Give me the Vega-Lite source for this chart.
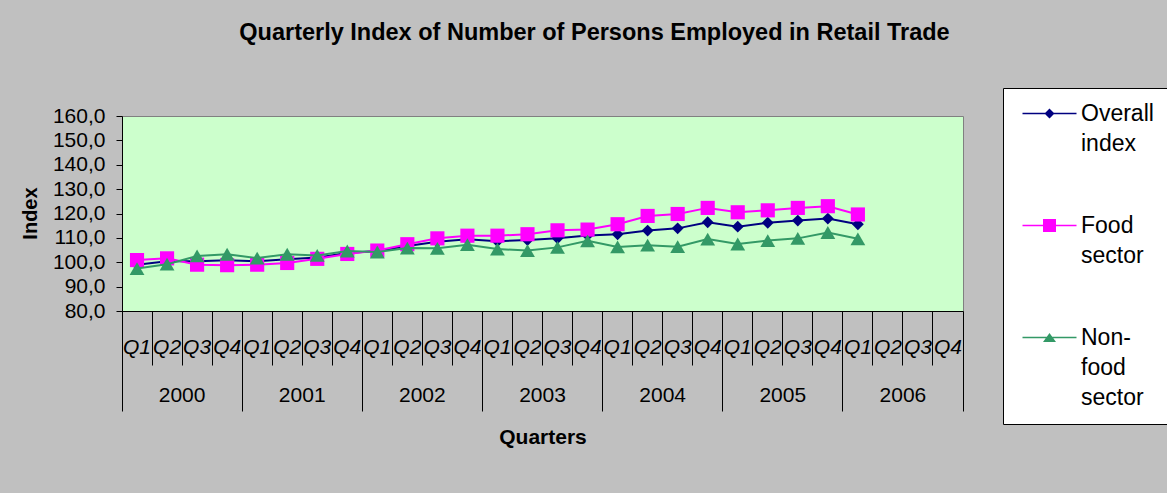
{
  "$schema": "https://vega.github.io/schema/vega-lite/v6.json",
  "width": 841,
  "height": 195,
  "autosize": {"type": "none"},
  "padding": {"left": 122, "top": 116, "right": 204, "bottom": 182},
  "background": "#C0C0C0",
  "title": {"text": "Quarterly Index of Number of Persons Employed in Retail Trade", "font": "Liberation Sans", "fontSize": 23.5, "fontWeight": "bold", "color": "black", "anchor": "middle", "frame": "group", "dx": 52, "dy": -39},
  "config": {
    "view": {"fill": "#CCFFCC", "stroke": "#808080", "strokeWidth": 1},
    "style": {"guide-label": {"lineHeight": 30}},
    "axis": {"labelFont": "Liberation Sans", "titleFont": "Liberation Sans", "labelColor": "black", "titleColor": "black", "domainColor": "black", "tickColor": "black", "grid": false}
  },
  "data": {"values": [
    {"period": "2000 Q1", "series": "Overall index", "value": 99.0},
    {"period": "2000 Q2", "series": "Overall index", "value": 100.4},
    {"period": "2000 Q3", "series": "Overall index", "value": 100.4},
    {"period": "2000 Q4", "series": "Overall index", "value": 100.8},
    {"period": "2001 Q1", "series": "Overall index", "value": 100.4},
    {"period": "2001 Q2", "series": "Overall index", "value": 101.2},
    {"period": "2001 Q3", "series": "Overall index", "value": 101.9},
    {"period": "2001 Q4", "series": "Overall index", "value": 103.8},
    {"period": "2002 Q1", "series": "Overall index", "value": 104.6},
    {"period": "2002 Q2", "series": "Overall index", "value": 106.7},
    {"period": "2002 Q3", "series": "Overall index", "value": 108.4},
    {"period": "2002 Q4", "series": "Overall index", "value": 109.4},
    {"period": "2003 Q1", "series": "Overall index", "value": 108.6},
    {"period": "2003 Q2", "series": "Overall index", "value": 109.1},
    {"period": "2003 Q3", "series": "Overall index", "value": 109.8},
    {"period": "2003 Q4", "series": "Overall index", "value": 111.0},
    {"period": "2004 Q1", "series": "Overall index", "value": 111.5},
    {"period": "2004 Q2", "series": "Overall index", "value": 113.0},
    {"period": "2004 Q3", "series": "Overall index", "value": 113.9},
    {"period": "2004 Q4", "series": "Overall index", "value": 116.4},
    {"period": "2005 Q1", "series": "Overall index", "value": 114.6},
    {"period": "2005 Q2", "series": "Overall index", "value": 116.2},
    {"period": "2005 Q3", "series": "Overall index", "value": 117.1},
    {"period": "2005 Q4", "series": "Overall index", "value": 117.9},
    {"period": "2006 Q1", "series": "Overall index", "value": 115.6},
    {"period": "2000 Q1", "series": "Food sector", "value": 100.9},
    {"period": "2000 Q2", "series": "Food sector", "value": 101.6},
    {"period": "2000 Q3", "series": "Food sector", "value": 99.0},
    {"period": "2000 Q4", "series": "Food sector", "value": 98.8},
    {"period": "2001 Q1", "series": "Food sector", "value": 99.0},
    {"period": "2001 Q2", "series": "Food sector", "value": 99.7},
    {"period": "2001 Q3", "series": "Food sector", "value": 101.4},
    {"period": "2001 Q4", "series": "Food sector", "value": 103.4},
    {"period": "2002 Q1", "series": "Food sector", "value": 104.8},
    {"period": "2002 Q2", "series": "Food sector", "value": 107.4},
    {"period": "2002 Q3", "series": "Food sector", "value": 109.8},
    {"period": "2002 Q4", "series": "Food sector", "value": 110.9},
    {"period": "2003 Q1", "series": "Food sector", "value": 110.9},
    {"period": "2003 Q2", "series": "Food sector", "value": 111.5},
    {"period": "2003 Q3", "series": "Food sector", "value": 113.1},
    {"period": "2003 Q4", "series": "Food sector", "value": 113.4},
    {"period": "2004 Q1", "series": "Food sector", "value": 115.6},
    {"period": "2004 Q2", "series": "Food sector", "value": 119.0},
    {"period": "2004 Q3", "series": "Food sector", "value": 119.8},
    {"period": "2004 Q4", "series": "Food sector", "value": 122.3},
    {"period": "2005 Q1", "series": "Food sector", "value": 120.5},
    {"period": "2005 Q2", "series": "Food sector", "value": 121.3},
    {"period": "2005 Q3", "series": "Food sector", "value": 122.3},
    {"period": "2005 Q4", "series": "Food sector", "value": 123.0},
    {"period": "2006 Q1", "series": "Food sector", "value": 119.6},
    {"period": "2000 Q1", "series": "Non-food sector", "value": 97.4},
    {"period": "2000 Q2", "series": "Non-food sector", "value": 99.2},
    {"period": "2000 Q3", "series": "Non-food sector", "value": 102.6},
    {"period": "2000 Q4", "series": "Non-food sector", "value": 103.3},
    {"period": "2001 Q1", "series": "Non-food sector", "value": 101.7},
    {"period": "2001 Q2", "series": "Non-food sector", "value": 103.3},
    {"period": "2001 Q3", "series": "Non-food sector", "value": 102.8},
    {"period": "2001 Q4", "series": "Non-food sector", "value": 104.6},
    {"period": "2002 Q1", "series": "Non-food sector", "value": 104.2},
    {"period": "2002 Q2", "series": "Non-food sector", "value": 105.8},
    {"period": "2002 Q3", "series": "Non-food sector", "value": 105.7},
    {"period": "2002 Q4", "series": "Non-food sector", "value": 107.2},
    {"period": "2003 Q1", "series": "Non-food sector", "value": 105.4},
    {"period": "2003 Q2", "series": "Non-food sector", "value": 104.8},
    {"period": "2003 Q3", "series": "Non-food sector", "value": 106.1},
    {"period": "2003 Q4", "series": "Non-food sector", "value": 108.8},
    {"period": "2004 Q1", "series": "Non-food sector", "value": 106.3},
    {"period": "2004 Q2", "series": "Non-food sector", "value": 107.0},
    {"period": "2004 Q3", "series": "Non-food sector", "value": 106.4},
    {"period": "2004 Q4", "series": "Non-food sector", "value": 109.5},
    {"period": "2005 Q1", "series": "Non-food sector", "value": 107.5},
    {"period": "2005 Q2", "series": "Non-food sector", "value": 108.9},
    {"period": "2005 Q3", "series": "Non-food sector", "value": 109.8},
    {"period": "2005 Q4", "series": "Non-food sector", "value": 112.2},
    {"period": "2006 Q1", "series": "Non-food sector", "value": 109.6}
  ]},
  "resolve": {"axis": {"x": "independent"}},
  "layer": [
    {
      "transform": [{"filter": "datum.series === 'Overall index'"}],
      "mark": {"type": "line", "color": "#000080", "strokeWidth": 2},
      "encoding": {
        "x": {"field": "period", "type": "ordinal", "sort": null,
          "scale": {"type": "band", "paddingInner": 0, "paddingOuter": 0, "domain": ["2000 Q1","2000 Q2","2000 Q3","2000 Q4","2001 Q1","2001 Q2","2001 Q3","2001 Q4","2002 Q1","2002 Q2","2002 Q3","2002 Q4","2003 Q1","2003 Q2","2003 Q3","2003 Q4","2004 Q1","2004 Q2","2004 Q3","2004 Q4","2005 Q1","2005 Q2","2005 Q3","2005 Q4","2006 Q1","2006 Q2","2006 Q3","2006 Q4"]},
          "axis": {"orient": "bottom", "title": null, "ticks": false, "tickSize": 0, "domain": true, "domainColor": "black", "labelAngle": 0, "labelOverlap": false, "labelFontSize": 21, "labelFontStyle": "italic", "labelPadding": 25, "labelExpr": "substring(datum.value, 5)"}},
        "y": {"field": "value", "type": "quantitative",
          "scale": {"domain": [80, 160], "nice": false, "zero": false},
          "axis": {"orient": "left", "values": [80, 90, 100, 110, 120, 130, 140, 150, 160], "labelOverlap": false, "labelExpr": "replace(format(datum.value, '.1f'), '.', ',')", "labelFontSize": 21, "tickSize": 6, "labelPadding": 11, "title": "Index", "titleFontSize": 20, "titleFontWeight": "bold", "titleX": -92, "titleY": 97, "titleAngle": -90, "titleAlign": "center", "titleBaseline": "middle"}}
      }
    },
    {
      "transform": [{"filter": "datum.series === 'Overall index'"}],
      "mark": {"type": "point", "filled": true, "shape": "diamond", "size": 140, "color": "#000080", "opacity": 1},
      "encoding": {
        "x": {"field": "period", "type": "ordinal", "sort": null,
          "scale": {"type": "band", "paddingInner": 0, "paddingOuter": 0, "domain": ["2000 Q1","2000 Q2","2000 Q3","2000 Q4","2001 Q1","2001 Q2","2001 Q3","2001 Q4","2002 Q1","2002 Q2","2002 Q3","2002 Q4","2003 Q1","2003 Q2","2003 Q3","2003 Q4","2004 Q1","2004 Q2","2004 Q3","2004 Q4","2005 Q1","2005 Q2","2005 Q3","2005 Q4","2006 Q1","2006 Q2","2006 Q3","2006 Q4"]},
          "axis": {"orient": "bottom", "title": null, "labels": false, "domain": false, "ticks": true, "tickSize": 54, "tickColor": "black", "bandPosition": 0}},
        "y": {"field": "value", "type": "quantitative", "scale": {"domain": [80, 160], "nice": false, "zero": false},
          "axis": {"orient": "left", "values": [80, 90, 100, 110, 120, 130, 140, 150, 160], "labelOverlap": false, "labelExpr": "replace(format(datum.value, '.1f'), '.', ',')", "labelFontSize": 21, "tickSize": 6, "labelPadding": 11, "title": "Index", "titleFontSize": 20, "titleFontWeight": "bold", "titleX": -92, "titleY": 97, "titleAngle": -90, "titleAlign": "center", "titleBaseline": "middle"}}
      }
    },
    {
      "transform": [{"filter": "datum.series === 'Food sector'"}],
      "mark": {"type": "line", "color": "#FF00FF", "strokeWidth": 2},
      "encoding": {
        "x": {"field": "period", "type": "ordinal", "sort": null,
          "scale": {"type": "band", "paddingInner": 0, "paddingOuter": 0, "domain": ["2000 Q1","2000 Q2","2000 Q3","2000 Q4","2001 Q1","2001 Q2","2001 Q3","2001 Q4","2002 Q1","2002 Q2","2002 Q3","2002 Q4","2003 Q1","2003 Q2","2003 Q3","2003 Q4","2004 Q1","2004 Q2","2004 Q3","2004 Q4","2005 Q1","2005 Q2","2005 Q3","2005 Q4","2006 Q1","2006 Q2","2006 Q3","2006 Q4"]},
          "axis": {"orient": "bottom", "title": null, "labels": false, "domain": false, "ticks": true, "tickSize": 100, "tickColor": "black", "bandPosition": 0, "values": ["2000 Q1","2001 Q1","2002 Q1","2003 Q1","2004 Q1","2005 Q1","2006 Q1"]}},
        "y": {"field": "value", "type": "quantitative", "scale": {"domain": [80, 160], "nice": false, "zero": false},
          "axis": {"orient": "left", "values": [80, 90, 100, 110, 120, 130, 140, 150, 160], "labelOverlap": false, "labelExpr": "replace(format(datum.value, '.1f'), '.', ',')", "labelFontSize": 21, "tickSize": 6, "labelPadding": 11, "title": "Index", "titleFontSize": 20, "titleFontWeight": "bold", "titleX": -92, "titleY": 97, "titleAngle": -90, "titleAlign": "center", "titleBaseline": "middle"}}
      }
    },
    {
      "transform": [{"filter": "datum.series === 'Food sector'"}],
      "mark": {"type": "point", "filled": true, "shape": "square", "size": 200, "color": "#FF00FF", "opacity": 1},
      "encoding": {
        "x": {"field": "period", "type": "ordinal", "sort": null,
          "scale": {"type": "band", "paddingInner": 0, "paddingOuter": 0, "domain": ["2000 Q1","2000 Q2","2000 Q3","2000 Q4","2001 Q1","2001 Q2","2001 Q3","2001 Q4","2002 Q1","2002 Q2","2002 Q3","2002 Q4","2003 Q1","2003 Q2","2003 Q3","2003 Q4","2004 Q1","2004 Q2","2004 Q3","2004 Q4","2005 Q1","2005 Q2","2005 Q3","2005 Q4","2006 Q1","2006 Q2","2006 Q3","2006 Q4"]},
          "axis": {"orient": "bottom", "title": null, "labels": false, "domain": false, "ticks": true, "tickSize": 100, "tickColor": "black", "bandPosition": 1, "values": ["2006 Q4"]}},
        "y": {"field": "value", "type": "quantitative", "scale": {"domain": [80, 160], "nice": false, "zero": false},
          "axis": {"orient": "left", "values": [80, 90, 100, 110, 120, 130, 140, 150, 160], "labelOverlap": false, "labelExpr": "replace(format(datum.value, '.1f'), '.', ',')", "labelFontSize": 21, "tickSize": 6, "labelPadding": 11, "title": "Index", "titleFontSize": 20, "titleFontWeight": "bold", "titleX": -92, "titleY": 97, "titleAngle": -90, "titleAlign": "center", "titleBaseline": "middle"}}
      }
    },
    {
      "transform": [{"filter": "datum.series === 'Non-food sector'"}],
      "mark": {"type": "line", "color": "#339966", "strokeWidth": 2},
      "encoding": {
        "x": {"field": "period", "type": "ordinal", "sort": null,
          "scale": {"type": "band", "paddingInner": 0, "paddingOuter": 0, "domain": ["2000 Q1","2000 Q2","2000 Q3","2000 Q4","2001 Q1","2001 Q2","2001 Q3","2001 Q4","2002 Q1","2002 Q2","2002 Q3","2002 Q4","2003 Q1","2003 Q2","2003 Q3","2003 Q4","2004 Q1","2004 Q2","2004 Q3","2004 Q4","2005 Q1","2005 Q2","2005 Q3","2005 Q4","2006 Q1","2006 Q2","2006 Q3","2006 Q4"]},
          "axis": {"orient": "bottom", "ticks": false, "tickSize": 0, "domain": false, "labelAngle": 0, "labelOverlap": false, "labelFontSize": 21, "labelPadding": 73, "labelOffset": -15, "values": ["2000 Q3","2001 Q3","2002 Q3","2003 Q3","2004 Q3","2005 Q3","2006 Q3"], "labelExpr": "substring(datum.value, 0, 4)", "title": "Quarters", "titleFontSize": 21, "titleFontWeight": "bold", "titleY": 126, "titleBaseline": "middle"}},
        "y": {"field": "value", "type": "quantitative", "scale": {"domain": [80, 160], "nice": false, "zero": false},
          "axis": {"orient": "left", "values": [80, 90, 100, 110, 120, 130, 140, 150, 160], "labelOverlap": false, "labelExpr": "replace(format(datum.value, '.1f'), '.', ',')", "labelFontSize": 21, "tickSize": 6, "labelPadding": 11, "title": "Index", "titleFontSize": 20, "titleFontWeight": "bold", "titleX": -92, "titleY": 97, "titleAngle": -90, "titleAlign": "center", "titleBaseline": "middle"}}
      }
    },
    {
      "transform": [{"filter": "datum.series === 'Non-food sector'"}],
      "mark": {"type": "point", "filled": true, "shape": "triangle-up", "size": 220, "color": "#339966", "opacity": 1},
      "encoding": {
        "x": {"field": "period", "type": "ordinal", "sort": null,
          "scale": {"type": "band", "paddingInner": 0, "paddingOuter": 0, "domain": ["2000 Q1","2000 Q2","2000 Q3","2000 Q4","2001 Q1","2001 Q2","2001 Q3","2001 Q4","2002 Q1","2002 Q2","2002 Q3","2002 Q4","2003 Q1","2003 Q2","2003 Q3","2003 Q4","2004 Q1","2004 Q2","2004 Q3","2004 Q4","2005 Q1","2005 Q2","2005 Q3","2005 Q4","2006 Q1","2006 Q2","2006 Q3","2006 Q4"]},
          "axis": null},
        "y": {"field": "value", "type": "quantitative", "scale": {"domain": [80, 160], "nice": false, "zero": false},
          "axis": {"orient": "left", "values": [80, 90, 100, 110, 120, 130, 140, 150, 160], "labelOverlap": false, "labelExpr": "replace(format(datum.value, '.1f'), '.', ',')", "labelFontSize": 21, "tickSize": 6, "labelPadding": 11, "title": "Index", "titleFontSize": 20, "titleFontWeight": "bold", "titleX": -92, "titleY": 97, "titleAngle": -90, "titleAlign": "center", "titleBaseline": "middle"}}
      }
    },
    {
      "transform": [{"filter": "false"}],
      "mark": {"type": "point", "filled": true, "opacity": 1},
      "encoding": {
        "x": {"field": "period", "type": "ordinal", "sort": null,
          "scale": {"type": "band", "paddingInner": 0, "paddingOuter": 0, "domain": ["2000 Q1","2000 Q2","2000 Q3","2000 Q4","2001 Q1","2001 Q2","2001 Q3","2001 Q4","2002 Q1","2002 Q2","2002 Q3","2002 Q4","2003 Q1","2003 Q2","2003 Q3","2003 Q4","2004 Q1","2004 Q2","2004 Q3","2004 Q4","2005 Q1","2005 Q2","2005 Q3","2005 Q4","2006 Q1","2006 Q2","2006 Q3","2006 Q4"]},
          "axis": null},
        "y": {"field": "value", "type": "quantitative", "scale": {"domain": [80, 160], "nice": false, "zero": false},
          "axis": {"orient": "left", "values": [80, 90, 100, 110, 120, 130, 140, 150, 160], "labelOverlap": false, "labelExpr": "replace(format(datum.value, '.1f'), '.', ',')", "labelFontSize": 21, "tickSize": 6, "labelPadding": 11, "title": "Index", "titleFontSize": 20, "titleFontWeight": "bold", "titleX": -92, "titleY": 97, "titleAngle": -90, "titleAlign": "center", "titleBaseline": "middle"}},
        "color": {"field": "series", "type": "nominal",
          "scale": {"domain": ["Overall index", "Food sector", "Non-food sector"], "range": ["#000080", "#FF00FF", "#339966"]},
          "legend": {"orient": "none", "legendX": 881, "legendY": -28, "title": null, "fillColor": "white", "strokeColor": "black", "padding": 14, "symbolSize": 400, "symbolStrokeWidth": 0, "symbolOpacity": 1, "labelFont": "Liberation Sans", "labelFontSize": 23, "labelColor": "black", "labelOffset": 41, "labelLimit": 300, "rowPadding": 58, "labelExpr": "datum.label === 'Non-food sector' ? ['Non-', 'food', 'sector'] : split(datum.label, ' ')"}},
        "shape": {"field": "series", "type": "nominal",
          "scale": {"domain": ["Overall index", "Food sector", "Non-food sector"], "range": ["M-0.6,-0.075H4.8V0.075H-0.6Z M2.1,-0.5L2.6,0L2.1,0.5L1.6,0Z", "M-0.6,-0.075H4.8V0.075H-0.6Z M1.45,-0.65H2.75V0.65H1.45Z", "M-0.6,-0.075H4.8V0.075H-0.6Z M2.1,-0.45L2.75,0.45H1.45Z"]},
          "legend": {"orient": "none", "legendX": 881, "legendY": -28, "title": null, "fillColor": "white", "strokeColor": "black", "padding": 14, "symbolSize": 400, "symbolStrokeWidth": 0, "symbolOpacity": 1, "labelFont": "Liberation Sans", "labelFontSize": 23, "labelColor": "black", "labelOffset": 41, "labelLimit": 300, "rowPadding": 58, "labelExpr": "datum.label === 'Non-food sector' ? ['Non-', 'food', 'sector'] : split(datum.label, ' ')"}}
      }
    }
  ]
}
